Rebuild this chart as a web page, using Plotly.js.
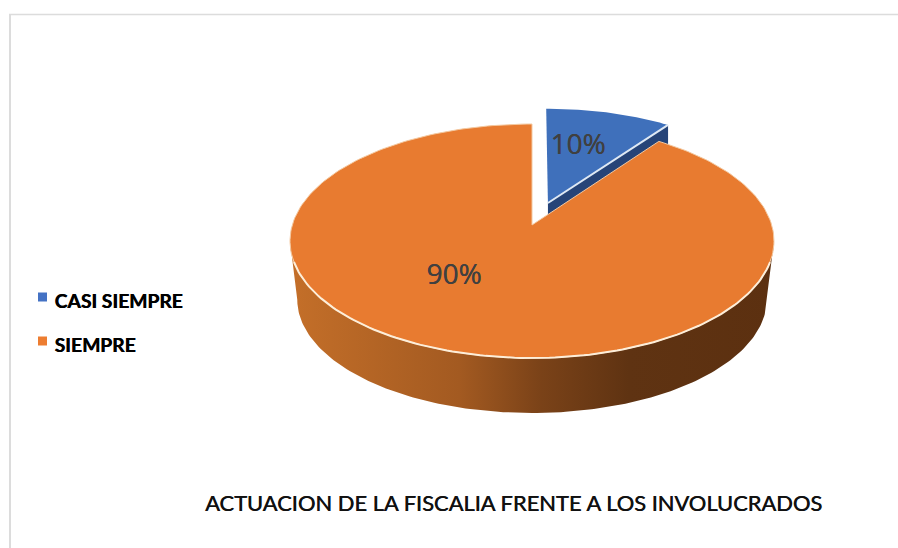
<!DOCTYPE html>
<html lang="es">
<head>
<meta charset="utf-8">
<title>Actuación de la fiscalía</title>
<script src="https://cdn.plot.ly/plotly-3.0.1.min.js"></script>
<style>
  html, body { margin: 0; padding: 0; background: #fff; }
  #chart { width: 898px; height: 548px; }
</style>
</head>
<body>
<div id="chart"></div>
<script>
// Survey answers and their share of responses (percent)
const categories = ["CASI SIEMPRE", "SIEMPRE"];
const shares = [10, 90];
const chartTitle = "ACTUACION DE LA FISCALIA FRENTE A LOS INVOLUCRADOS";

// Colours
const blueTop = "#3f70bb", blueSide = "#264478", orangeTop = "#e87b30";
const legendBlue = "#4472c4", legendOrange = "#ed7d31";
const blueRim = "#dfe9f4", orangeRim = "#fdeed9", orangeOutline = "#f4c9a0";
const sideRamp = [[0, "#c46f29"], [0.35, "#a35a21"], [0.52, "#7a4218"], [0.7, "#5f3312"], [1, "#5c3010"]];

// Perspective disk: the axes run in page pixels, disk coordinates are unit radius
const apexX = 532, apexY = 225;      // disk centre as seen on the page
const scaleX = 239.7, scaleY = 114.8, tilt = 0.137;
const depth = 59, floorScale = 0.97; // pie thickness and shrink of the lower face
const blueRadius = 0.98, explode = 0.207, blueShiftX = 1;

// Project a disk point onto the page; lift > 0 moves it to the lower face
function project(u, v, lift) {
  const w = 1 + tilt * v;
  const s = lift ? floorScale : 1;
  return [apexX + s * scaleX * u / w,
          apexY + (lift ? depth : 0) - s * scaleY * v / w];
}
const rad = d => d * Math.PI / 180;
const range = (from, to, n) => Array.from({length: n + 1}, (_, i) => from + (to - from) * i / n);

// Slice angles follow from the shares, clockwise from twelve o'clock
const total = shares.reduce((a, b) => a + b, 0);
const blueSweep = 360 * shares[0] / total;
const orangeStart = blueSweep, orangeEnd = 360;

// Blue slice is pulled out along its bisector
const midBlue = rad(blueSweep / 2);
const bu = explode * Math.sin(midBlue), bv = explode * Math.cos(midBlue);
const shiftBlue = p => [p[0] + blueShiftX, p[1]];
const bluePoint = (deg, lift) =>
  shiftBlue(project(bu + blueRadius * Math.sin(rad(deg)), bv + blueRadius * Math.cos(rad(deg)), lift));

function toXY(points) {
  return { x: points.map(p => p[0]), y: points.map(p => p[1]) };
}
const rim = (deg, lift) => project(Math.sin(rad(deg)), Math.cos(rad(deg)), lift);

// Outer wall of the large slice: visible front half, top rim then lower rim
const silhouetteL = 262, silhouetteR = 98;
const frontTop = range(silhouetteL, silhouetteR, 160).map(d => rim(d, false));
const frontFloor = range(silhouetteR, silhouetteL, 160).map(d => rim(d, true));

const orangeTopPts = [project(0, 0, false)].concat(
  range(orangeStart, orangeEnd, 240).map(d => rim(d, false)), [project(0, 0, false)]);

const blueApex = shiftBlue(project(bu, bv, false));
const blueTopPts = [blueApex].concat(range(0, blueSweep, 40).map(d => bluePoint(d, false)), [blueApex]);
const blueCorner = bluePoint(blueSweep, false);
const blueCutWall = [blueApex, blueCorner, [blueCorner[0], blueCorner[1] + depth], [blueApex[0], blueApex[1] + depth], blueApex];

const filled = (pts, color, extra) => Object.assign(
  { type: "scatter", mode: "lines", fill: "toself", fillcolor: color, line: {width: 0}, hoverinfo: "skip", showlegend: false },
  toXY(pts), extra || {});
const stroke = (pts, color, width) => Object.assign(
  { type: "scatter", mode: "lines", line: {color, width}, hoverinfo: "skip", showlegend: false }, toXY(pts));

// Value labels and legend keys
const valueLabelX = [578, 454], valueLabelY = [147, 277];
const legendKeyX = 42.5, legendKeyY = [297, 341], legendTextX = 54.5, legendTextY = [303, 347.5];
const labelColor = "#404040";

const traces = [
  filled(frontTop.concat(frontFloor), "#7a4218", {
    fillgradient: { type: "horizontal", colorscale: sideRamp }
  }),
  filled(blueCutWall, blueSide),
  filled(blueTopPts, blueTop),
  stroke([blueApex, blueCorner], blueRim, 2),
  filled(orangeTopPts, orangeTop, { line: {color: orangeOutline, width: 1} }),
  stroke(range(252, 108, 120).map(d => rim(d, false)), orangeRim, 2),
  { // percentage labels on the slices
    type: "scatter", mode: "text", x: valueLabelX, y: valueLabelY,
    text: shares.map(v => v + "%"), textposition: "middle center",
    textfont: { family: "Open Sans", size: 28, color: labelColor, shadow: "0.4px 0 0 " + labelColor },
    hoverinfo: "skip", showlegend: false
  },
  { // legend keys
    type: "scatter", mode: "markers", x: [legendKeyX, legendKeyX], y: legendKeyY,
    marker: { symbol: "square", size: 9, color: [legendBlue, legendOrange] },
    hoverinfo: "skip", showlegend: false
  },
  { // legend names
    type: "scatter", mode: "text", x: [legendTextX, legendTextX], y: legendTextY,
    text: categories, textposition: "middle right",
    textfont: { family: "Lato", size: 19.3, weight: 700, color: "#000000", shadow: "0.5px 0 0 #000000" },
    hoverinfo: "skip", showlegend: false
  }
];

const frameColor = "#dcdcdc";
const layout = {
  width: 898, height: 548,
  margin: {l: 0, r: 0, t: 0, b: 0},
  paper_bgcolor: "#ffffff", plot_bgcolor: "#ffffff",
  showlegend: false,
  xaxis: {range: [0, 898], visible: false, fixedrange: true},
  yaxis: {range: [548, 0], visible: false, fixedrange: true},
  title: {
    text: chartTitle, x: 513.5 / 898, xanchor: "center", y: 1 - 503 / 548, yanchor: "middle",
    font: {family: "Lato", size: 21.9, color: "#111111", shadow: "0.5px 0 0 #111111"}
  },
  shapes: [
    {type: "line", xref: "x", yref: "y", x0: 9, x1: 898, y0: 14.5, y1: 14.5, line: {color: frameColor, width: 1.5}},
    {type: "line", xref: "x", yref: "y", x0: 10, x1: 10, y0: 14, y1: 548, line: {color: frameColor, width: 2}}
  ]
};

Plotly.newPlot("chart", traces, layout, {staticPlot: true, displayModeBar: false});
</script>
</body>
</html>
